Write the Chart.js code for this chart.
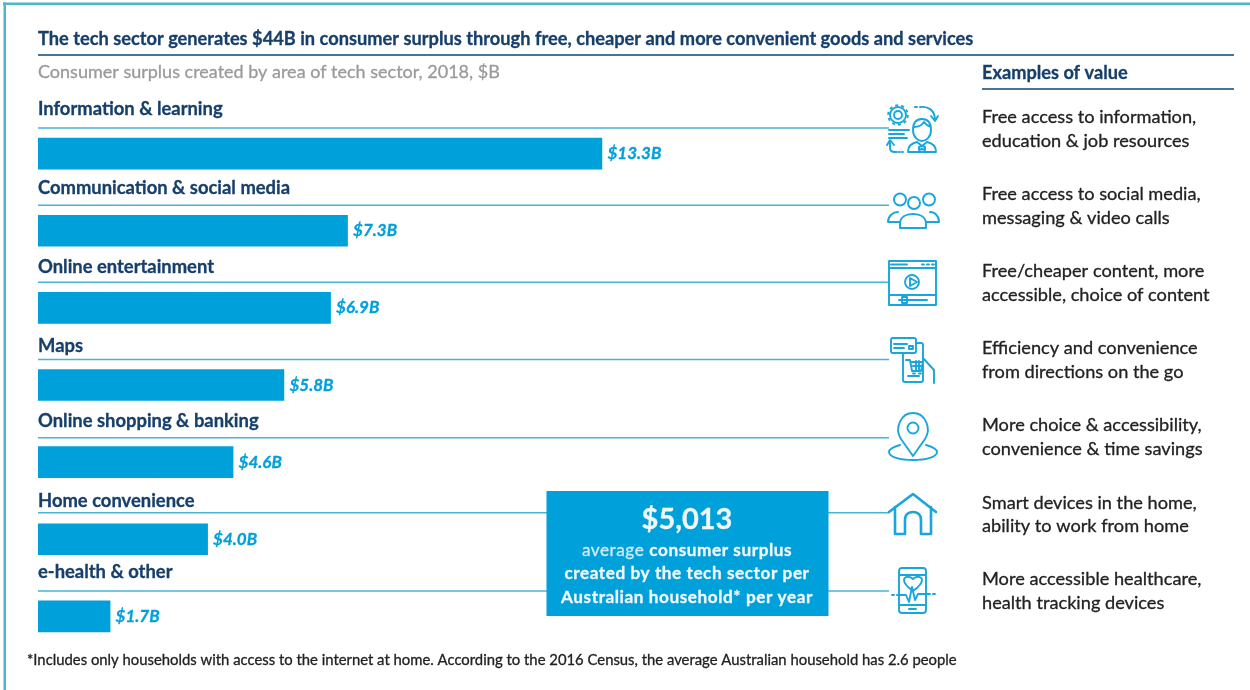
<!DOCTYPE html>
<html><head><meta charset="utf-8">
<style>html,body{margin:0;padding:0;background:#fff;overflow:hidden}canvas{display:block}</style>
<script src="https://cdn.jsdelivr.net/npm/chart.js@4"></script>
</head><body>
<canvas id="c" width="1250" height="690"></canvas>
<script>
const categories = ["Information & learning","Communication & social media","Online entertainment","Maps","Online shopping & banking","Home convenience","e-health & other"];
const values = [13.3,7.3,6.9,5.8,4.6,4.0,1.7];
const examples = [
 ["Free access to information,","education & job resources"],
 ["Free access to social media,","messaging & video calls"],
 ["Free/cheaper content, more","accessible, choice of content"],
 ["Efficiency and convenience","from directions on the go"],
 ["More choice & accessibility,","convenience & time savings"],
 ["Smart devices in the home,","ability to work from home"],
 ["More accessible healthcare,","health tracking devices"]];
const titleText = "The tech sector generates $44B in consumer surplus through free, cheaper and more convenient goods and services";
const subtitleText = "Consumer surplus created by area of tech sector, 2018, $B";
const examplesTitle = "Examples of value";
const footnote = "*Includes only households with access to the internet at home. According to the 2016 Census, the average Australian household has 2.6 people";
const calloutValue = "$5,013";

const NAVY="#173F6B", BLUE="#00A0DA", RULE="#47B4D2", ICON="#18A6DC", DARKRULE="#4A7396";
// vertical offsets from each bar's centre (layout only)
const headBase=[-39,-36.5,-34.5,-33.5,-35.5,-32.5,-38.5], ruleOff=[-25.5,-25.5,-25.5,-25.5,-24.5,-26.5,-25.5];
const exBase=[[-31,-7],[-30.5,-6.5],[-30.5,-7],[-31,-7],[-31,-7],[-30.5,-7.5],[-31.5,-7.5]];

const icons=[
 {p:"M889 130H909M889 134H904M889 138H907 M915 107H917M920 107C928 106 935 110 935 120M931 116L935 121L938 116 M890 143V148C890 151 892 152 895 152H897M899 152H900M902 152H903M887 145L890 140L894 145 M913 130C913 122 917 119 922 119C927 119 931 122 931 130C931 137 926 141 922 141C918 141 913 137 913 130M914 127C918 127 922 125 924 122C926 125 928 126 931 127 M908 152C908 146 912 143 917 142L922 146L927 142C932 143 936 146 936 152Z M919 147L922 146L925 147L925 150L922 149L919 150Z",
  c:[[898,115,8],[898,115,9.8,[3,3.15]],[898,115,4]]},
 {p:"M888 222C888 216 893 212 898 212M939 222C939 216 935 212 930 212 M888 222H899 M939 222H926 M900 228V224C900 217 906 214 913 214C920 214 926 217 926 224V228Z",
  c:[[900,199.5,6],[914,203,6],[929,199.5,6]]},
 {p:"M889 261H936V305H889ZM889 268H936M889 295H936M891 264.5H907M922 264.5H924M927 264.5H929M932 264.5H934 M899 300H927M902 297H907V303H902Z M910 278L917 282L910 286Z",
  c:[[912,282,7]]},
 {p:"M893 338H914Q916 338 916 340V351Q916 353 914 353H893Q891 353 891 351V340Q891 338 893 338ZM894 344H907M894 348H904M909 346H913V349H909Z M917 343H921Q923 343 923 345V380Q923 382 921 382H905Q903 382 903 380V353 M908 376H919 M906 360H910L912 371H921L923 362H911M913 366H921M916 361V371M919 361V371 M913 373.5H915M919 373.5H921 M923 358L934 370V383",
  c:[]},
 {p:"M913 456L901 439C894 428 901 413 913 413C925 413 932 428 925 439Z M900 445C893 447 889 449 889 452C889 457 900 460 913 460C926 460 937 457 937 452C937 449 933 447 926 445",
  c:[[913,428,5.5]]},
 {p:"M889 512L913 494L936 512M895 507V534H905V520C905 514 909 512 913 512C917 512 921 514 921 520V534H931V507",
  c:[], w:2.6},
 {p:"M902 568H923Q926 568 926 571V610Q926 613 923 613H902Q899 613 899 610V571Q899 568 902 568ZM899 575H926M899 605H926M909 609H916 M913 591C906 586 904 583 904 580C904 577 909 575 913 579C917 575 922 577 922 580C922 583 920 586 913 591Z M892 595H894M897 595H906L909 602L912 587L915 600L918 594H930M933 594H935",
  c:[]}
];

function txt(ctx,s,x,y,font,color,align,ls,sw){
 ctx.font=font;ctx.fillStyle=color;ctx.textAlign=align||"left";ctx.textBaseline="alphabetic";
 ctx.letterSpacing=(ls||0)+"px";
 ctx.fillText(s,x,y);
 ctx.strokeStyle=color;ctx.lineWidth=sw===undefined?0.3:sw;ctx.lineJoin="round";
 if(ctx.lineWidth>0)ctx.strokeText(s,x,y);
 ctx.letterSpacing="0px";
}
function rule(ctx,x0,x1,y,w,c){ctx.strokeStyle=c;ctx.lineWidth=w;ctx.beginPath();ctx.moveTo(x0,y);ctx.lineTo(x1,y);ctx.stroke();}

const overlay={id:"overlay",
 beforeDatasetsDraw(chart){
  const ctx=chart.ctx,bars=chart.getDatasetMeta(0).data;
  ctx.save();
  ctx.fillStyle="#fff";ctx.fillRect(0,0,1250,690);
  ctx.fillStyle="#4DB8C4";ctx.fillRect(3,2.5,1247,2.5);ctx.fillRect(3.5,2.5,2.5,688);
  txt(ctx,titleText,38,45,"bold 18.24px Lato",NAVY);
  rule(ctx,38,1234,55,2,DARKRULE);
  txt(ctx,subtitleText,38,78,"18px Lato","#9A9A9A");
  txt(ctx,examplesTitle,982,78.5,"bold 18.2px Lato",NAVY);
  rule(ctx,982,1234,89,2,DARKRULE);
  bars.forEach((b,i)=>{
   txt(ctx,categories[i],38,b.y+headBase[i],"bold 18.4px Lato",NAVY);
   rule(ctx,38,889,b.y+ruleOff[i],1.5,RULE);
   txt(ctx,examples[i][0],982,b.y+exBase[i][0],"18.2px Lato","#222");
   txt(ctx,examples[i][1],982,b.y+exBase[i][1],"18.2px Lato","#222");
  });
  ctx.restore();
 },
 afterDatasetsDraw(chart){
  const ctx=chart.ctx,bars=chart.getDatasetMeta(0).data;
  ctx.save();
  bars.forEach((b,i)=>{
   txt(ctx,"$"+values[i].toFixed(1)+"B",b.x+5.5,b.y+5.5,"italic bold 17px Lato",BLUE);
  });
  ctx.fillStyle=BLUE;ctx.fillRect(546.5,491,282,125);
  txt(ctx,calloutValue,687,529,"bold 29px Lato","#F2F7FA","center");
  const ls=0.55,fs="17.2px Lato",fb="bold 17.2px Lato";
  ctx.letterSpacing=ls+"px";
  ctx.font=fs;const a="average ";const aw=ctx.measureText(a).width;
  ctx.font=fb;const bTxt="consumer surplus";const bw=ctx.measureText(bTxt).width;
  ctx.letterSpacing="0px";
  const sx=687-(aw+bw)/2;
  txt(ctx,a,sx,556,fs,"#CFEAF6","left",ls,0);
  txt(ctx,bTxt,sx+aw,556,fb,"#F2F7FA","left",ls);
  txt(ctx,"created by the tech sector per",687,579,fb,"#F2F7FA","center",ls);
  txt(ctx,"Australian household* per year",687,603,fb,"#F2F7FA","center",ls);
  txt(ctx,footnote,27,665,"14.85px Lato","#222");
  ctx.strokeStyle=ICON;ctx.lineJoin="round";ctx.lineCap="round";
  icons.forEach(ic=>{
   ctx.lineWidth=ic.w||1.9;
   ctx.setLineDash([]);
   ctx.stroke(new Path2D(ic.p));
   ic.c.forEach(k=>{ctx.lineCap=k[3]?"butt":"round";ctx.setLineDash(k[3]||[]);ctx.beginPath();ctx.arc(k[0],k[1],k[2],0,Math.PI*2);ctx.stroke();});
   ctx.lineCap="round";
  });
  ctx.restore();
 }
};

new Chart(document.getElementById("c"),{
 type:"bar",
 data:{labels:categories,datasets:[{data:values,backgroundColor:BLUE,barThickness:31,borderWidth:0}]},
 options:{
  indexAxis:"y",responsive:false,animation:false,
  layout:{padding:{left:38,right:364,top:115,bottom:35}},
  plugins:{legend:{display:false},tooltip:{enabled:false},title:{display:false}},
  scales:{x:{display:false,min:0,max:20},y:{display:false}}
 },
 plugins:[overlay]
});
</script>
</body></html>
